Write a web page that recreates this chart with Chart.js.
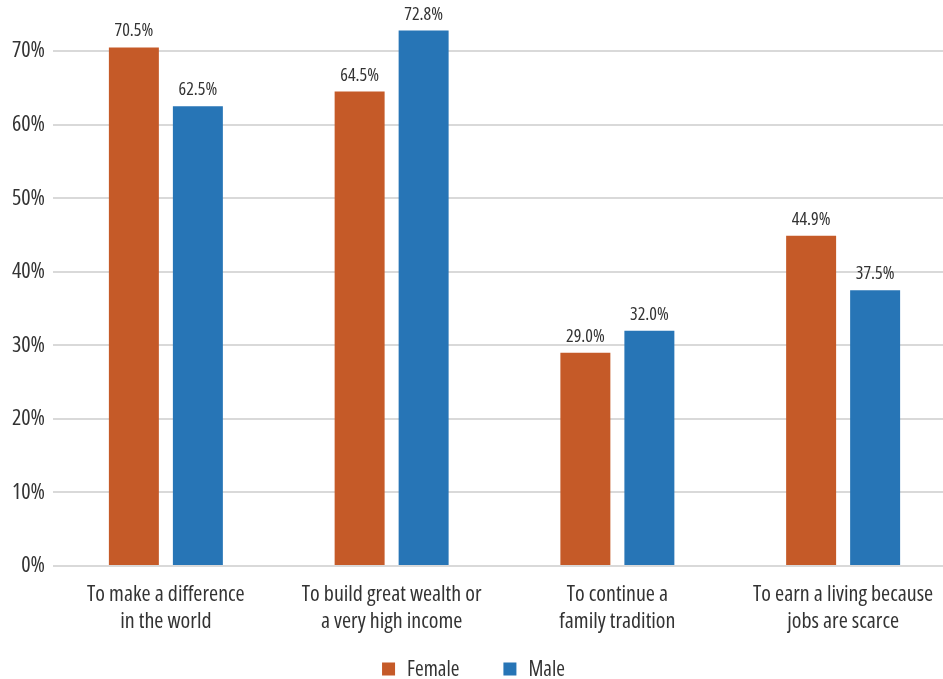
<!DOCTYPE html>
<html>
<head>
<meta charset="utf-8">
<script src="https://cdn.jsdelivr.net/npm/chart.js@4"></script>
<style>
  html, body { margin: 0; padding: 0; background: #fff; }
  /* the plot runs a little past the right edge in the original, so the canvas is wider than the view */
  #view { width: 943px; height: 679px; overflow: hidden; }
  #wrap { width: 956px; height: 679px; position: relative; }
</style>
</head>
<body>
<div id="view"><div id="wrap"><canvas id="chart"></canvas></div></div>
<script>
// ── Data ──
const categories = [
  ['To make a difference', 'in the world'],
  ['To build great wealth or', 'a very high income'],
  ['To continue a', 'family tradition'],
  ['To earn a living because', 'jobs are scarce']
];
const female = [70.5, 64.5, 29.0, 44.9];
const male   = [62.5, 72.8, 32.0, 37.5];
const yTicks = [0, 10, 20, 30, 40, 50, 60, 70];

const FAMILY  = '"Open Sans", "Roboto", sans-serif';
const STRETCH = 'condensed';           // goes into the canvas font shorthand
const TEXT    = '#333333';
const VIEW_W  = 943;

// ── Value labels above bars ──
const barLabels = {
  id: 'barLabels',
  afterDatasetsDraw(chart) {
    const ctx = chart.ctx;
    ctx.save();
    ctx.font = STRETCH + ' 18px ' + FAMILY;
    ctx.fillStyle = TEXT;
    ctx.textAlign = 'center';
    ctx.textBaseline = 'alphabetic';
    chart.data.datasets.forEach((ds, i) => {
      chart.getDatasetMeta(i).data.forEach((bar, j) => {
        ctx.fillText(ds.data[j].toFixed(1) + '%', bar.x, bar.y - 11);
      });
    });
    ctx.restore();
  }
};

// ── Legend at the bottom (drawn by hand to get the wide gap between items) ──
const bottomLegend = {
  id: 'bottomLegend',
  afterDraw(chart) {
    const ctx = chart.ctx;
    const box = 13, gapText = 12, gapItem = 44, cy = 669;
    ctx.save();
    ctx.font = STRETCH + ' 21px ' + FAMILY;
    ctx.textBaseline = 'middle';
    const items = chart.data.datasets.map(ds => ({ label: ds.label, color: ds.backgroundColor, w: ctx.measureText(ds.label).width }));
    const total = items.reduce((s, it) => s + box + gapText + it.w, 0) + gapItem * (items.length - 1);
    let x = VIEW_W / 2 - total / 2 + 2;
    items.forEach(it => {
      ctx.fillStyle = it.color;
      ctx.fillRect(x, cy - box / 2, box, box);
      x += box + gapText;
      ctx.fillStyle = TEXT;
      ctx.fillText(it.label, x, cy + 1);
      x += it.w + gapItem;
    });
    ctx.restore();
  }
};

new Chart(document.getElementById('chart'), {
  type: 'bar',
  data: {
    labels: categories,
    datasets: [
      { label: 'Female', data: female, backgroundColor: '#C55A28', borderWidth: 0 },
      { label: 'Male',   data: male,   backgroundColor: '#2775B6', borderWidth: 0 }
    ]
  },
  options: {
    responsive: true, maintainAspectRatio: false, animation: false,
    devicePixelRatio: 1,
    categoryPercentage: 0.567, barPercentage: 0.781,
    layout: { padding: { top: 7, right: 0, left: 0, bottom: 38 } },
    plugins: {
      tooltip: { enabled: false },
      legend: { display: false }
    },
    scales: {
      x: {
        afterFit: axis => { axis.height = 75; axis.paddingLeft = 0; axis.paddingRight = 0; },
        grid: { display: false },
        border: { display: false },
        ticks: {
          font: { family: FAMILY, size: 22, weight: STRETCH, lineHeight: 1.23 },
          color: TEXT, padding: 7, maxRotation: 0, autoSkip: false
        }
      },
      y: {
        min: 0, max: 76,
        afterBuildTicks: axis => { axis.ticks = yTicks.map(v => ({ value: v })); },
        afterFit: axis => { axis.width = 53; axis.paddingTop = 0; axis.paddingBottom = 0; },
        grid: { color: '#d9d9d9', lineWidth: 2, drawTicks: false },
        border: { display: false },
        ticks: {
          font: { family: FAMILY, size: 22, weight: 'semi-condensed' },
          color: TEXT, padding: 8, callback: v => v + '%'
        }
      }
    }
  },
  plugins: [barLabels, bottomLegend]
});
</script>
</body>
</html>
